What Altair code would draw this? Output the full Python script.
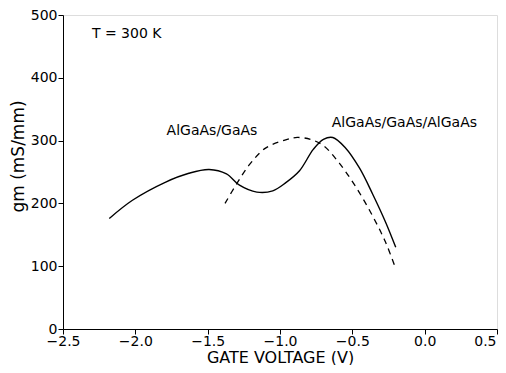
import altair as alt
import pandas as pd

# AlGaAs/GaAs/AlGaAs (solid)
solid_x = [-2.18, -2.02, -1.79, -1.63, -1.49, -1.37, -1.28, -1.16, -1.05, -0.96, -0.865, -0.77, -0.70, -0.635, -0.55, -0.45, -0.36, -0.27, -0.20]
solid_y = [176, 205, 234, 248, 254, 247, 229, 218, 220, 233, 252, 286, 302, 305, 289, 256, 215, 170, 130]

# AlGaAs/GaAs (dashed)
dash_x = [-1.38, -1.30, -1.21, -1.10, -0.95, -0.88, -0.79, -0.70, -0.59, -0.475, -0.36, -0.27, -0.20]
dash_y = [200, 231, 262, 288, 302, 305, 302, 292, 264, 226, 180, 138, 96]

x_ticks = [-2.5, -2.0, -1.5, -1.0, -0.5, 0.0, 0.5]
y_ticks = [0, 100, 200, 300, 400, 500]

labels_text = ["T = 300 K", "AlGaAs/GaAs", "AlGaAs/GaAs/AlGaAs"]
labels_x = [-2.30, -1.47, -0.14]
labels_y = [470, 316, 328]
labels_align = ["left", "center", "center"]

solid = pd.DataFrame({"x": solid_x, "y": solid_y, "s": "solid"})
dashed = pd.DataFrame({"x": dash_x, "y": dash_y, "s": "dashed"})
lab = pd.DataFrame({"x": labels_x, "y": labels_y, "t": labels_text, "a": labels_align})

FONT = "DejaVu Sans"

xs = alt.Scale(domain=[-2.5, 0.5], nice=False, zero=False)
ys = alt.Scale(domain=[0, 500], nice=False)

xax = alt.Axis(values=x_ticks, format=".1f", title="GATE  VOLTAGE  (V)", grid=False,
               labelFont=FONT, labelFontSize=14, labelColor="black", titleFont=FONT,
               titleFontSize=16, titleFontWeight="normal", titleColor="black",
               domainColor="black", tickColor="black", tickSize=5, labelPadding=0,
               titleY=20, titleBaseline="top",
               labelAlign=alt.expr("datum.value == 0.5 ? 'right' : 'center'"),
               labelOffset=alt.expr("datum.value == 0.5 ? -1 : 0"), labelFlush=False)
yax = alt.Axis(values=y_ticks, format="d", title="gm  (mS/mm)", grid=False,
               labelFont=FONT, labelFontSize=14, labelColor="black", titleFont=FONT,
               titleFontSize=17, titleFontWeight="normal", titleColor="black",
               domainColor="black", tickColor="black", tickSize=5, labelPadding=1,
               titleX=-45, titleY=141, titleBaseline="middle", titleAlign="center",
               labelFlush=False)

line1 = alt.Chart(solid).mark_line(color="black", strokeWidth=1.4, interpolate="catmull-rom").encode(
    x=alt.X("x:Q", scale=xs, axis=xax), y=alt.Y("y:Q", scale=ys, axis=yax))
line2 = alt.Chart(dashed).mark_line(color="black", strokeWidth=1.3, strokeDash=[6, 5],
                                    interpolate="catmull-rom").encode(
    x=alt.X("x:Q", scale=xs), y=alt.Y("y:Q", scale=ys))

txt_left = alt.Chart(lab[lab.a == "left"]).mark_text(font=FONT, fontSize=14, align="left",
                                                      baseline="middle", color="black").encode(
    x=alt.X("x:Q", scale=xs), y=alt.Y("y:Q", scale=ys), text="t:N")
txt_center = alt.Chart(lab[lab.a == "center"]).mark_text(font=FONT, fontSize=14, align="center",
                                                          baseline="middle", color="black").encode(
    x=alt.X("x:Q", scale=xs), y=alt.Y("y:Q", scale=ys), text="t:N")

chart = alt.layer(line1, line2, txt_left, txt_center).properties(
    width=434, height=314,
    autosize=alt.AutoSizeParams(type="none"),
    padding={"left": 55, "top": 7, "right": 1, "bottom": 36},
).configure_view(stroke="black", strokeWidth=1.3).configure(background="white")

chart.save("out.html", embed_options={"renderer": "svg", "actions": False})
